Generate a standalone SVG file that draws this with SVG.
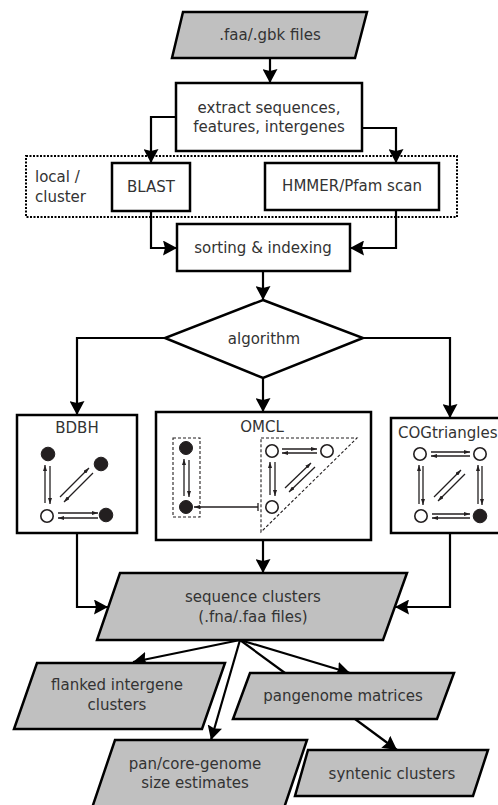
<svg xmlns="http://www.w3.org/2000/svg" width="498" height="805" viewBox="0 0 498 805">
<style>
.box{fill:#fff;stroke:#000;stroke-width:2.5}
.data{fill:#c0c0c0;stroke:#000;stroke-width:2.5}
.con{fill:none;stroke:#000;stroke-width:2.2;marker-end:url(#ah)}
.conn{fill:none;stroke:#000;stroke-width:2.2}
.t{font-family:"DejaVu Sans",Verdana,sans-serif;font-size:15px;fill:#333;text-anchor:middle}
.tl{text-anchor:start}
.g{fill:none;stroke:#231f20;stroke-width:1.3}
.ga{fill:none;stroke:#231f20;stroke-width:1.3;marker-end:url(#sa)}
.fc{fill:#231f20;stroke:#231f20;stroke-width:1}
.oc{fill:#fff;stroke:#231f20;stroke-width:1.6}
.dash{fill:none;stroke:#231f20;stroke-width:1.1;stroke-dasharray:3 2}
</style>
<defs>
<marker id="ah" viewBox="0 0 14 15" refX="14" refY="7.5" markerWidth="14" markerHeight="15" orient="auto" markerUnits="userSpaceOnUse">
<path d="M0,0 L14,7.5 L0,15 L2,7.5 z" fill="#000"/>
</marker>
<marker id="sa" viewBox="0 0 6 4" refX="6" refY="2" markerWidth="6" markerHeight="4" orient="auto" markerUnits="userSpaceOnUse">
<path d="M0,0 L6,2 L0,4 z" fill="#231f20"/>
</marker>
</defs>

<g id="connectors">
<path class="con" d="M270,58 V83"/>
<path class="con" d="M176,117 H151 V163"/>
<path class="con" d="M362,128 H396 V163"/>
<path class="con" d="M151,211 V248 H177"/>
<path class="con" d="M396,210 V248 H350"/>
<path class="con" d="M263,271 V300"/>
<path class="con" d="M165,338 H77 V415"/>
<path class="con" d="M263,378 V412"/>
<path class="con" d="M363,338 H450 V418"/>
<path class="con" d="M77,533 V607 H108"/>
<path class="con" d="M263,540 V573"/>
<path class="con" d="M450,533 V607 H395"/>
<path class="con" d="M240,640 L133,662"/>
<path class="con" d="M240,640 L211,740"/>
<path class="conn" d="M240,640 L285,673"/>
<path class="con" d="M240,640 L350,673"/>
<path class="con" d="M355,719 L397,750"/>
</g>

<g id="input">
<polygon class="data" points="183,12 367,12 355,58 172,58"/>
<text class="t" x="270" y="40">.faa/.gbk files</text>
</g>

<g id="extract">
<rect class="box" x="176" y="83" width="186" height="68"/>
<text class="t" x="269" y="113">extract sequences,</text>
<text class="t" x="269" y="132">features, intergenes</text>
</g>

<g id="local-cluster">
<rect x="26" y="156" width="431" height="61" fill="none" stroke="#000" stroke-width="2" stroke-dasharray="2 1.5"/>
<text class="t tl" x="35" y="182">local /</text>
<text class="t tl" x="35" y="202">cluster</text>
</g>

<g id="blast">
<rect class="box" x="112" y="163" width="78" height="48"/>
<text class="t" x="151" y="192">BLAST</text>
</g>

<g id="hmmer">
<rect class="box" x="265" y="163" width="174" height="47"/>
<text class="t" x="352" y="191">HMMER/Pfam scan</text>
</g>

<g id="sorting">
<rect class="box" x="177" y="224" width="173" height="47"/>
<text class="t" x="263" y="253">sorting &amp; indexing</text>
</g>

<g id="algorithm">
<polygon class="box" points="263,300 363,338 263,378 165,338"/>
<text class="t" x="264" y="344">algorithm</text>
</g>

<g id="bdbh">
<rect class="box" x="17" y="415" width="120" height="118"/>
<text class="t" x="77" y="433">BDBH</text>
<circle class="fc" cx="48" cy="454" r="6.8"/>
<circle class="fc" cx="101" cy="464" r="6.8"/>
<circle class="oc" cx="47" cy="516" r="6.2"/>
<circle class="fc" cx="106" cy="515" r="6.8"/>
<path class="ga" d="M45,503 V465"/>
<path class="ga" d="M50,466 V504"/>
<path class="ga" d="M58,513 H98"/>
<path class="ga" d="M98,518 H58"/>
<path class="ga" d="M60,497 L89,468"/>
<path class="ga" d="M93,473 L64,502"/>
</g>

<g id="omcl">
<rect class="box" x="156" y="412" width="215" height="128"/>
<text class="t" x="262" y="432">OMCL</text>
<rect class="dash" x="173" y="438" width="27" height="79"/>
<circle class="fc" cx="186" cy="448" r="6.5"/>
<circle class="fc" cx="186" cy="507" r="6.5"/>
<path class="ga" d="M184,496 V459"/>
<path class="ga" d="M189,460 V497"/>
<polygon class="dash" points="261,438 357,438 261,532"/>
<circle class="oc" cx="272" cy="451" r="6.2"/>
<circle class="oc" cx="327" cy="451" r="6.2"/>
<circle class="oc" cx="272" cy="507" r="6.2"/>
<path class="ga" d="M282,449 H317"/>
<path class="ga" d="M317,453 H282"/>
<path class="ga" d="M270,495 V462"/>
<path class="ga" d="M275,462 V496"/>
<path class="ga" d="M285,488 L311,463"/>
<path class="ga" d="M315,467 L289,492"/>
<path class="g" d="M258,503 V511"/>
<path class="ga" d="M258,507 H194"/>
</g>

<g id="cogtriangles">
<rect class="box" x="391" y="418" width="120" height="115"/>
<text class="t tl" x="398" y="438">COGtriangles</text>
<circle class="oc" cx="420" cy="454" r="6.2"/>
<circle class="oc" cx="480" cy="454" r="6.2"/>
<circle class="oc" cx="421" cy="516" r="6.2"/>
<circle class="fc" cx="480" cy="516" r="6.8"/>
<path class="ga" d="M431,452 H470"/>
<path class="ga" d="M470,456 H431"/>
<path class="ga" d="M432,514 H470"/>
<path class="ga" d="M470,518 H432"/>
<path class="ga" d="M419,504 V465"/>
<path class="ga" d="M423,466 V505"/>
<path class="ga" d="M478,504 V465"/>
<path class="ga" d="M482,466 V505"/>
<path class="ga" d="M434,497 L461,470"/>
<path class="ga" d="M465,474 L438,501"/>
</g>

<g id="sequence-clusters">
<polygon class="data" points="120,573 407,573 383,640 97,640"/>
<text class="t" x="253" y="602">sequence clusters</text>
<text class="t" x="253" y="622">(.fna/.faa files)</text>
</g>

<g id="flanked">
<polygon class="data" points="37,663 225,663 202,729 14,729"/>
<text class="t" x="117" y="690">flanked intergene</text>
<text class="t" x="117" y="710">clusters</text>
</g>

<g id="pancore">
<polygon class="data" points="115,740 307,740 284,808 92,808"/>
<text class="t" x="195" y="769">pan/core-genome</text>
<text class="t" x="195" y="788">size estimates</text>
</g>

<g id="pangenome">
<polygon class="data" points="250,673 454,673 437,719 233,719"/>
<text class="t" x="343" y="701">pangenome matrices</text>
</g>

<g id="syntenic">
<polygon class="data" points="308,750 488,750 473,796 295,796"/>
<text class="t" x="392" y="779">syntenic clusters</text>
</g>
</svg>
